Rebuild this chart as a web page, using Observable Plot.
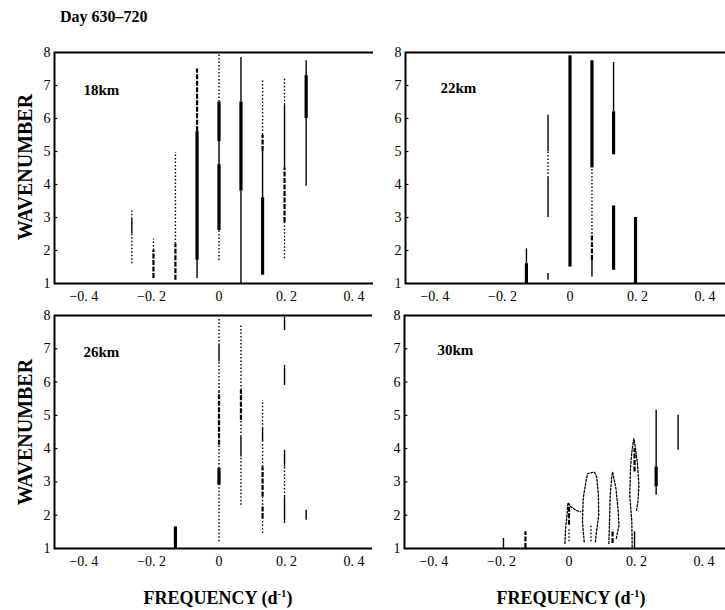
<!DOCTYPE html>
<html><head><meta charset="utf-8">
<script src="https://cdn.jsdelivr.net/npm/d3@7"></script>
<script src="https://cdn.jsdelivr.net/npm/@observablehq/plot@0.6"></script>
<style>
html,body{margin:0;padding:0;background:#fff;}
#root{position:relative;width:725px;height:610px;overflow:hidden;background:#fff;font-family:"Liberation Serif","Times New Roman",serif;color:#000;}
.abs{position:absolute;}
.title{left:60px;top:8px;font-size:16px;font-weight:bold;}
.ylab{font-size:20px;font-weight:bold;transform:translate(-50%,-50%) rotate(-90deg);white-space:nowrap;}
.xlab{font-size:18px;font-weight:bold;transform:translate(-50%,-50%);white-space:nowrap;}
.xlab sup{font-size:0.6em;}
</style></head><body><div id="root"></div>
<script>
// ---------- data ----------
const titleText = "Day 630–720";
const panelNames = ["18km", "22km", "26km", "30km"];
const yLabel = "WAVENUMBER";
const xLabel = "FREQUENCY (d<sup>-1</sup>)";
const xTicks = [-0.4, -0.2, 0, 0.2, 0.4];
const xTickLabels = ["−0. 4", "−0. 2", "0", "0. 2", "0. 4"];
const yTicks = [1, 2, 3, 4, 5, 6, 7, 8];
const xDomain = [-0.487, 0.487];
const yDomain = [1, 8];

// streak segments: [frequency, wavenumber from, wavenumber to, intensity level 1..4]
const streaks18 = [
  [-0.258, 1.6, 2.5, 1], [-0.258, 2.5, 2.95, 2], [-0.258, 2.95, 3.2, 1],
  [-0.194, 1.15, 2.0, 3], [-0.194, 2.0, 2.35, 1],
  [-0.129, 1.1, 2.2, 3], [-0.129, 2.2, 4.97, 1],
  [-0.065, 1.15, 1.7, 2], [-0.065, 1.7, 5.6, 4], [-0.065, 5.6, 7.5, 3],
  [0, 1.7, 2.6, 1], [0, 2.6, 4.6, 4], [0, 4.6, 5.3, 2], [0, 5.3, 6.5, 4], [0, 6.5, 7.95, 1],
  [0.065, 1.0, 3.8, 2], [0.065, 3.8, 6.5, 4], [0.065, 6.5, 7.85, 2],
  [0.129, 1.25, 3.6, 4], [0.129, 3.6, 5.0, 2], [0.129, 5.0, 5.5, 3], [0.129, 5.5, 7.15, 1],
  [0.194, 1.75, 2.85, 1], [0.194, 2.85, 4.5, 3], [0.194, 4.5, 6.4, 2], [0.194, 6.4, 7.2, 1],
  [0.258, 3.95, 6.0, 2], [0.258, 6.0, 7.3, 4], [0.258, 7.3, 7.75, 2]
];
const streaks22 = [
  [-0.129, 1.0, 1.6, 4], [-0.129, 1.6, 2.05, 2],
  [-0.065, 1.1, 1.3, 2], [-0.065, 3.0, 4.2, 2], [-0.065, 4.2, 5.0, 1], [-0.065, 5.0, 6.1, 2],
  [0, 1.5, 7.9, 4],
  [0.065, 1.2, 1.7, 2], [0.065, 1.7, 2.5, 3], [0.065, 2.5, 4.5, 1], [0.065, 4.5, 7.75, 4],
  [0.129, 1.4, 3.35, 4], [0.129, 4.9, 6.2, 4], [0.129, 6.2, 7.7, 2],
  [0.194, 1.0, 3.0, 4]
];
const streaks26 = [
  [-0.129, 1.0, 1.65, 4],
  [0, 1.2, 2.9, 1], [0, 2.9, 3.4, 4], [0, 3.4, 4.1, 1], [0, 4.1, 5.7, 3], [0, 5.7, 6.6, 1], [0, 6.6, 7.1, 2], [0, 7.1, 7.95, 1],
  [0.065, 2.3, 3.75, 1], [0.065, 3.75, 4.35, 2], [0.065, 4.35, 4.85, 1], [0.065, 4.85, 5.75, 3], [0.065, 5.75, 7.7, 1],
  [0.129, 1.45, 1.9, 1], [0.129, 1.9, 2.3, 3], [0.129, 2.3, 2.55, 1], [0.129, 2.55, 3.45, 3], [0.129, 3.45, 4.2, 1], [0.129, 4.2, 4.6, 2], [0.129, 4.6, 5.45, 1],
  [0.194, 1.75, 2.55, 2], [0.194, 2.55, 3.45, 1], [0.194, 3.45, 3.95, 2], [0.194, 5.9, 6.5, 2], [0.194, 7.55, 7.95, 2],
  [0.258, 1.85, 2.15, 2]
];
const streaks30 = [
  [-0.194, 1.0, 1.3, 2],
  [-0.129, 1.0, 1.5, 3],
  [0, 1.2, 1.6, 1], [0, 1.7, 2.3, 3],
  [0.065, 1.2, 1.7, 1],
  [0.129, 1.15, 1.55, 3],
  [0.194, 1.0, 1.5, 2], [0.194, 3.3, 4.0, 3],
  [0.258, 2.6, 2.85, 2], [0.258, 2.85, 3.45, 4], [0.258, 3.45, 5.15, 2],
  [0.323, 3.95, 5.0, 2]
];
// contour outlines (30 km): [peak id, frequency, wavenumber]
const contours30 = [
  ["p0", -0.012, 1.15], ["p0", -0.01, 1.6], ["p0", -0.006, 2.0], ["p0", -0.003, 2.38], ["p0", 0.006, 2.25], ["p0", 0.02, 2.15], ["p0", 0.035, 2.1],
  ["p1", 0.045, 1.2], ["p1", 0.04, 1.8], ["p1", 0.042, 2.5], ["p1", 0.05, 3.0], ["p1", 0.055, 3.25], ["p1", 0.075, 3.3], ["p1", 0.082, 3.15], ["p1", 0.087, 2.6], ["p1", 0.088, 2.0], ["p1", 0.08, 1.4], ["p1", 0.078, 1.15],
  ["p2", 0.118, 1.15], ["p2", 0.12, 1.8], ["p2", 0.122, 2.6], ["p2", 0.126, 3.1], ["p2", 0.129, 3.3], ["p2", 0.133, 3.1], ["p2", 0.139, 2.8], ["p2", 0.145, 2.2], ["p2", 0.148, 1.7], ["p2", 0.14, 1.3],
  ["p3", 0.187, 1.05], ["p3", 0.186, 1.8], ["p3", 0.18, 2.6], ["p3", 0.182, 3.4], ["p3", 0.186, 3.9], ["p3", 0.192, 4.3], ["p3", 0.197, 4.0], ["p3", 0.203, 3.5], ["p3", 0.207, 2.9], ["p3", 0.204, 2.4], ["p3", 0.199, 2.1]
];

// ---------- drawing ----------
const root = document.getElementById("root");
function addDiv(cls, html, left, top) {
  const d = document.createElement("div");
  d.className = "abs " + cls;
  d.innerHTML = html;
  if (left != null) d.style.left = left + "px";
  if (top != null) d.style.top = top + "px";
  root.appendChild(d);
  return d;
}
addDiv("title", titleText);

const levelStyle = {
  1: {w: 1.4, dash: "1.5,2"},
  2: {w: 1.4, dash: null},
  3: {w: 2.2, dash: "5,1.5"},
  4: {w: 3.2, dash: null}
};

const M = {left: 32, top: 6, right: 4, bottom: 24};
const FW = 329;

function panel(segs, contours, name, frameLeft, frameTop, frameH, labelDx, labelDy) {
  const rows = segs.map(([f, a, b, l]) => ({f, a, b, l}));
  const marks = [];
  for (const lvl of [1, 2, 3, 4]) {
    const s = levelStyle[lvl];
    const opts = {x: "f", y1: "a", y2: "b", stroke: "black", strokeWidth: s.w};
    if (s.dash) opts.strokeDasharray = s.dash;
    marks.push(Plot.ruleX(rows.filter(r => r.l === lvl), opts));
  }
  if (contours) {
    const pts = contours.map(([id, f, w]) => ({id, f, w}));
    marks.push(Plot.line(pts, {x: "f", y: "w", z: "id", stroke: "black", strokeWidth: 1.3, strokeDasharray: "2,1.8", curve: "linear"}));
  }
  marks.push(Plot.frame({stroke: "black", strokeWidth: 2}));
  marks.push(Plot.ruleY(yTicks.slice(1, -1), {y: d => d, x1: xDomain[0], x2: xDomain[0] + 0.01, stroke: "black", strokeWidth: 1.2}));
  marks.push(Plot.text([name], {frameAnchor: "top-left", dx: labelDx, dy: labelDy, textAnchor: "start", lineAnchor: "middle", fontWeight: "bold", fontSize: 15, fill: "black"}));
  marks.push(Plot.axisX(xTicks, {tickSize: 0, tickPadding: 8, tickFormat: d => xTickLabels[xTicks.indexOf(d)], fontSize: 14, label: null}));
  marks.push(Plot.axisY(yTicks, {tickSize: 0, tickPadding: 4, tickFormat: d => String(d), fontSize: 14, label: null}));
  const svg = Plot.plot({
    width: M.left + FW + M.right,
    height: M.top + frameH + M.bottom,
    marginLeft: M.left, marginTop: M.top, marginRight: M.right, marginBottom: M.bottom,
    x: {domain: xDomain, label: null},
    y: {domain: yDomain, label: null},
    style: {fontFamily: '"Liberation Serif", "Times New Roman", serif', fontSize: "14px", background: "white", color: "black", overflow: "visible"},
    marks
  });
  svg.style.position = "absolute";
  svg.style.left = (frameLeft - M.left) + "px";
  svg.style.top = (frameTop - M.top) + "px";
  root.appendChild(svg);
}

panel(streaks18, null, panelNames[0], 54, 52, 231, 29, 38);
panel(streaks22, null, panelNames[1], 405, 52, 231, 35, 36);
panel(streaks26, null, panelNames[2], 54, 315, 233, 29, 37);
panel(streaks30, contours30, panelNames[3], 404, 315, 233, 33, 35);

addDiv("ylab", yLabel, 25, 167);
addDiv("ylab", yLabel, 25, 432);
addDiv("xlab", xLabel, 218, 598);
addDiv("xlab", xLabel, 571, 598);
</script></body></html>
